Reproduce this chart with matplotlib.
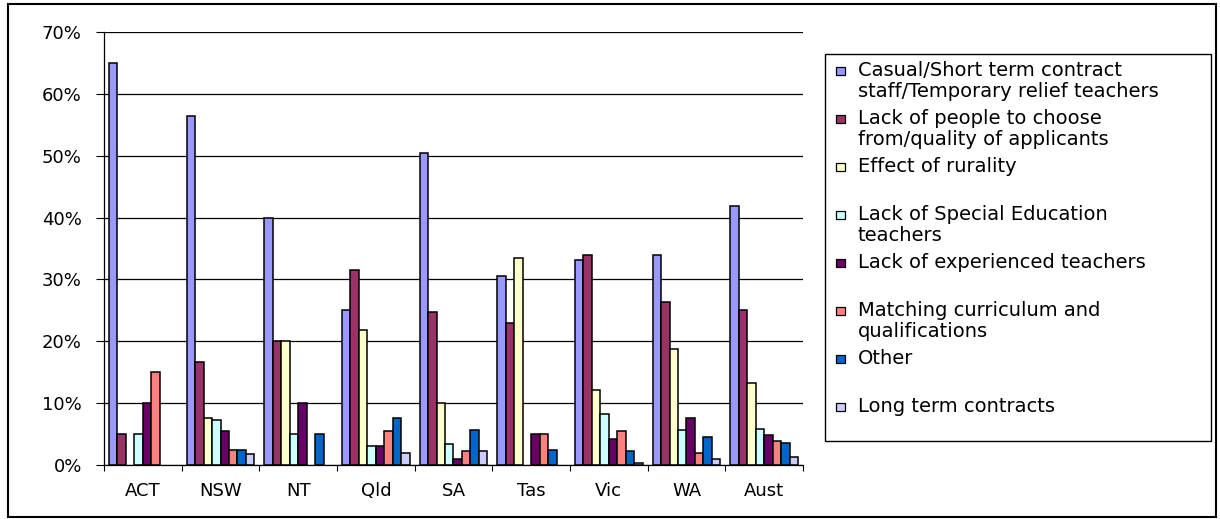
import numpy as np
import matplotlib.pyplot as plt
from matplotlib.patches import Rectangle
from matplotlib.ticker import FixedLocator

plt.rcParams['font.family'] = ['DejaVu Sans']

regions = ["ACT", "NSW", "NT", "Qld", "SA", "Tas", "Vic", "WA", "Aust"]

series_names = [
    "Casual/Short term contract\nstaff/Temporary relief teachers",
    "Lack of people to choose\nfrom/quality of applicants",
    "Effect of rurality",
    "Lack of Special Education\nteachers",
    "Lack of experienced teachers",
    "Matching curriculum and\nqualifications",
    "Other",
    "Long term contracts",
]

casual = [65.0, 56.4, 40.0, 25.0, 50.5, 30.6, 33.2, 34.0, 41.8]
lack_people = [5.0, 16.7, 20.0, 31.5, 24.7, 23.0, 34.0, 26.4, 25.1]
rurality = [0.0, 7.6, 20.0, 21.8, 10.1, 33.4, 12.1, 18.8, 13.3]
special_ed = [5.0, 7.2, 5.0, 3.1, 3.4, 0.0, 8.2, 5.7, 5.9]
experienced = [10.0, 5.5, 10.0, 3.1, 1.0, 5.0, 4.2, 7.6, 4.8]
matching = [15.0, 2.5, 0.0, 5.5, 2.3, 5.0, 5.5, 1.9, 3.8]
other = [0.0, 2.5, 5.0, 7.6, 5.7, 2.5, 2.3, 4.6, 3.6]
long_term = [0.0, 1.7, 0.0, 2.0, 2.3, 0.0, 0.4, 0.9, 1.3]

values = [casual, lack_people, rurality, special_ed, experienced, matching, other, long_term]
colors = ["#9999FF", "#993366", "#FFFFCC", "#CCFFFF", "#660066", "#FF8080", "#0066CC", "#CCCCFF"]

W, H = 1220, 519
fig = plt.figure(figsize=(W / 100, H / 100), dpi=100)
ax = fig.add_axes([104 / W, 1 - 465 / H, (803 - 104) / W, (465 - 32) / H])

n = len(values)
bw = 0.109
x = np.arange(len(regions)) + 0.5
for i, (vals, c) in enumerate(zip(values, colors)):
    offs = (i - (n - 1) / 2) * bw
    vals = np.asarray(vals)
    keep = vals > 0  # empty categories show no bar
    ax.bar((x + offs)[keep], vals[keep], width=bw, color=c, edgecolor="black",
           linewidth=1.1, zorder=3)

ax.set_xlim(0, len(regions))
ax.set_ylim(0, 70)
ax.set_yticks(np.arange(0, 71, 10))
ax.set_yticklabels([f"{v}%" for v in range(0, 71, 10)], fontsize=13)
ax.yaxis.grid(True, color="black", linewidth=0.9, zorder=0)
ax.tick_params(axis="y", direction="out", length=6, width=0.8, pad=10)

ax.set_xticks(x)
ax.set_xticklabels(regions, fontsize=13)
ax.tick_params(axis="x", which="major", length=0, pad=12)
ax.xaxis.set_minor_locator(FixedLocator(np.arange(0, len(regions) + 1)))
ax.tick_params(axis="x", which="minor", direction="out", length=4, width=0.8)

for s in ["top", "right"]:
    ax.spines[s].set_visible(False)
for s in ["left", "bottom"]:
    ax.spines[s].set_linewidth(0.9)
    ax.spines[s].set_zorder(4)

# legend drawn by hand to keep Excel-like spacing
lx0, ly0, lx1, ly1 = 825, 54, 1211, 441
fig.patches.append(Rectangle((lx0 / W, 1 - ly1 / H), (lx1 - lx0) / W, (ly1 - ly0) / H,
                             transform=fig.transFigure, facecolor="white",
                             edgecolor="black", linewidth=1.0))
entry_y = [71, 119, 167, 215, 263, 311, 359, 407]
for name, c, yy in zip(series_names, colors, entry_y):
    fig.patches.append(Rectangle((836 / W, 1 - (yy + 4) / H), 9 / W, 8 / H,
                                 transform=fig.transFigure, facecolor=c,
                                 edgecolor="black", linewidth=0.9))
    fig.text(858 / W, 1 - (yy - 10) / H, name, fontsize=14, va="top", ha="left",
             linespacing=1.15)

# outer chart border
fig.patches.append(Rectangle((8 / W, 2 / H), 1208 / W, 513 / H, transform=fig.transFigure,
                             facecolor="none", edgecolor="black", linewidth=1.5))

fig.savefig("out.png", dpi=100)
